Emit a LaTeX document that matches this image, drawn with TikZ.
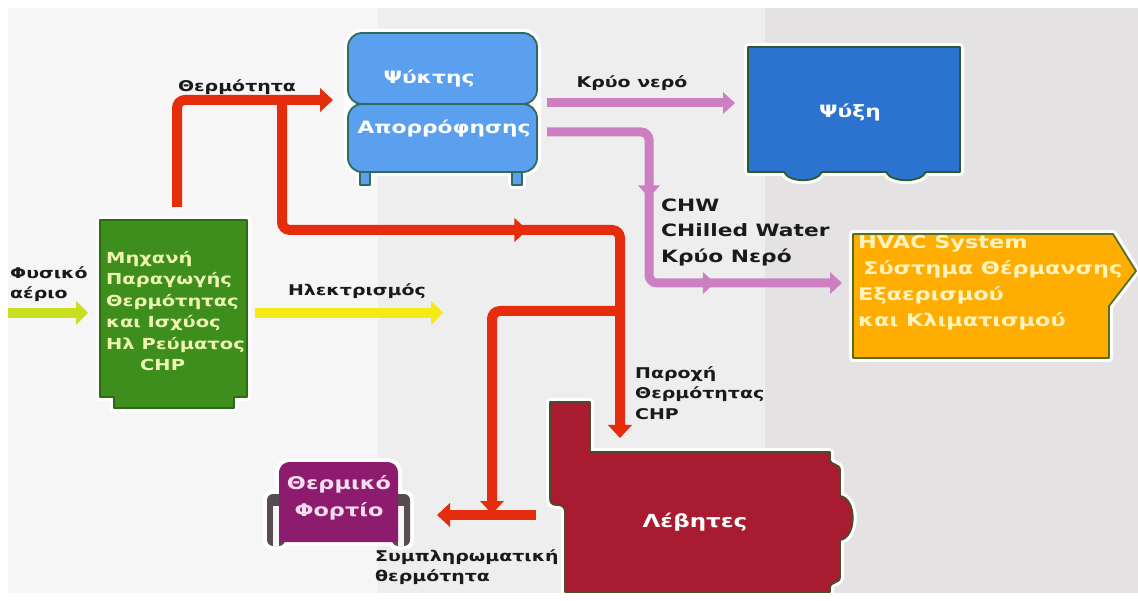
\documentclass[tikz,border=0pt]{standalone}
\usepackage{fontspec}
\setmainfont{DejaVu Sans}[FakeStretch=1.28]
\usetikzlibrary{arrows.meta,decorations.markings}
\definecolor{bgA}{HTML}{F6F6F6}
\definecolor{bgB}{HTML}{EFEEEE}
\definecolor{bgC}{HTML}{E4E2E2}
\definecolor{cRed}{HTML}{E52C0C}
\definecolor{cPink}{HTML}{CC80C2}
\definecolor{cLime}{HTML}{C8DF20}
\definecolor{cYellow}{HTML}{F5E916}
\definecolor{chpFill}{HTML}{3E8E1E}
\definecolor{chpEdge}{HTML}{2C6A14}
\definecolor{chpText}{HTML}{EEF5B0}
\definecolor{chillFill}{HTML}{5AA0EE}
\definecolor{chillEdge}{HTML}{2F6A5A}
\definecolor{coolFill}{HTML}{2B73CF}
\definecolor{coolEdge}{HTML}{2D5A2A}
\definecolor{hvacFill}{HTML}{FFAD00}
\definecolor{hvacEdge}{HTML}{55701F}
\definecolor{hvacText}{HTML}{FFF3C0}
\definecolor{boilFill}{HTML}{A81B30}
\definecolor{boilEdge}{HTML}{4E4A2A}
\definecolor{loadFill}{HTML}{8E1C6E}
\definecolor{loadArm}{HTML}{574C50}
\definecolor{loadText}{HTML}{F5DDF0}
\definecolor{ink}{HTML}{1A1A1A}
\tikzset{
  halo/.style={preaction={draw=white,line width=8pt,line join=round}},
  haloonly/.style={draw=white,line width=8pt,line join=round},
  shapeline/.style={line width=1.8pt,line join=round},
  pipeRed/.style={draw=cRed,line width=10pt,rounded corners=8pt,-{Triangle[width=24pt,length=13pt,line width=0pt]}},
  pipePink/.style={draw=cPink,line width=9pt,rounded corners=8pt,-{Triangle[width=22pt,length=12pt,line width=0pt]}},
  pipeYellow/.style={draw=cYellow,line width=10pt,-{Triangle[width=24pt,length=12pt,line width=0pt]}},
  pipeLime/.style={draw=cLime,line width=10pt,-{Triangle[width=24pt,length=12pt,line width=0pt]}},
  midRed/.style={postaction={decorate,decoration={markings,mark=at position #1 with {\arrow[cRed]{Triangle[width=24pt,length=13pt,line width=0pt]}}}}},
  midPink/.style={postaction={decorate,decoration={markings,mark=at position #1 with {\arrow[cPink]{Triangle[width=22pt,length=12pt,line width=0pt]}}}}},
  labtxt/.style={font=\fontsize{14.8}{20.5}\selectfont\bfseries,text=ink,inner sep=0pt,align=left},
  chwtxt/.style={font=\fontsize{17}{25.5}\selectfont\bfseries,text=ink,inner sep=0pt,align=left},
  chptxt/.style={font=\fontsize{15.2}{21.5}\selectfont\bfseries,text=chpText,inner sep=0pt,align=left},
  whitetxt/.style={font=\fontsize{17}{26}\selectfont\bfseries,text=white,inner sep=0pt,align=center},
  boiltxt/.style={font=\fontsize{18}{26}\selectfont\bfseries,text=white,inner sep=0pt,align=center},
  hvactxt/.style={font=\fontsize{17.5}{26}\selectfont\bfseries,text=hvacText,inner sep=0pt,align=left},
  loadtxt/.style={font=\fontsize{17.5}{27}\selectfont\bfseries,text=loadText,inner sep=0pt,align=center}
}
\begin{document}
\begin{tikzpicture}[x=1pt,y=-1pt]
\useasboundingbox (0,0) rectangle (1138,601);
% background panels
\fill[white] (0,0) rectangle (1138,601);
\fill[bgA] (8,8) rectangle (378,593);
\fill[bgB] (378,8) rectangle (765,593);
\fill[bgC] (765,8) rectangle (1138,593);

% CHP unit
\draw[halo,shapeline,draw=chpEdge,fill=chpFill] (100,220) -- (247,220) -- (247,397) -- (234,397) -- (234,408) -- (114,408) -- (114,397) -- (100,397) -- cycle;
\node[chptxt,anchor=west] (chp) at (106,311) {Μηχανή\\Παραγωγής\\Θερμότητας\\και Ισχύος\\Ηλ Ρεύματος\\\hspace*{34pt}CHP};

% absorption chiller
\draw[haloonly] (360,165) rectangle (370,185) (512,165) rectangle (522,185);
\draw[haloonly,rounded corners=14pt] (348,33) rectangle (537,172);
\draw[shapeline,draw=chillEdge,fill=chillFill] (360,165) rectangle (370,185) (512,165) rectangle (522,185);
\draw[shapeline,draw=chillEdge,fill=chillFill,rounded corners=14pt] (348,104) rectangle (537,172);
\draw[shapeline,draw=chillEdge,fill=chillFill,rounded corners=14pt] (348,33) rectangle (537,104);
\node[whitetxt] (chiller) at (429,78) {Ψύκτης};
\node[whitetxt] (absorb) at (444,128) {Απορρόφησης};

% cooling
\draw[halo,shapeline,draw=coolEdge,fill=coolFill] (748,47) -- (960,47) -- (960,172) -- (926,172) .. controls (921,183) and (891,183) .. (886,172) -- (822,172) .. controls (817,183) and (789,183) .. (784,172) -- (748,172) -- cycle;
\node[whitetxt] (cooling) at (850,112) {Ψύξη};

% HVAC
\draw[halo,shapeline,draw=hvacEdge,fill=hvacFill] (853,234) -- (1113,234) -- (1136,271) -- (1109,306) -- (1109,358) -- (853,358) -- cycle;
\node[hvactxt,anchor=west] (hvac) at (858,283) {HVAC System\\\hspace*{5pt}Σύστημα Θέρμανσης\\Εξαερισμού\\και Κλιματισμού};

% boilers
\draw[halo,shapeline,draw=boilEdge,fill=boilFill] (550,402) -- (590,402) -- (590,452) -- (830,452) -- (830,459) .. controls (830,466) and (840,463) .. (840,470) -- (840,496) .. controls (857,498) and (857,538) .. (840,540) -- (840,577) .. controls (840,584) and (830,581) .. (830,588) -- (830,592) -- (565,592) -- (565,512) .. controls (565,507) and (562,505) .. (557,505) .. controls (552,505) and (550,503) .. (550,498) -- cycle;
\node[boiltxt] (boiler) at (695,522) {Λέβητες};

% thermal load
\draw[haloonly,rounded corners=6pt] (267,546) -- (267,494) -- (285,494) -- (285,546) -- cycle;
\draw[haloonly,rounded corners=6pt] (392,546) -- (392,494) -- (410,494) -- (410,546) -- cycle;
\draw[haloonly] (279,542) -- (279,474) .. controls (279,466) and (283,462) .. (291,462) -- (386,462) .. controls (394,462) and (398,466) .. (398,474) -- (398,542) -- cycle;
\fill[loadArm,rounded corners=6pt] (267,546) -- (267,494) -- (285,494) -- (285,546) -- cycle;
\fill[loadArm,rounded corners=6pt] (392,546) -- (392,494) -- (410,494) -- (410,546) -- cycle;
\fill[bgA] (273,506) rectangle (279,546);
\fill[bgA] (398,506) rectangle (404,546);
\fill[loadFill] (279,542) -- (279,474) .. controls (279,466) and (283,462) .. (291,462) -- (386,462) .. controls (394,462) and (398,466) .. (398,474) -- (398,542) -- cycle;
\node[loadtxt] (load) at (339,498) {Θερμικό\\Φορτίο};

% connector waypoints
\coordinate (lm0) at (8,313);   \coordinate (lm1) at (88,313);
\coordinate (yl0) at (255,313); \coordinate (yl1) at (443,313);
\coordinate (rA0) at (177,207); \coordinate (rA1) at (177,100); \coordinate (rA2) at (333,100);
\coordinate (rJ1) at (282,100); \coordinate (rB1) at (282,230); \coordinate (rB2) at (620,230); \coordinate (rB3) at (620,438);
\coordinate (rJ2) at (620,311); \coordinate (rC1) at (492,311); \coordinate (rC2) at (492,514);
\coordinate (rD0) at (536,515); \coordinate (rD1) at (437,515);
\coordinate (pk0) at (547,103); \coordinate (pk1) at (735,103);
\coordinate (pk2) at (547,132); \coordinate (pk3) at (649,132); \coordinate (pk4) at (649,283); \coordinate (pk5) at (842,283);

% connectors
\draw[pipeLime] (lm0) -- (lm1);
\draw[pipeYellow] (yl0) -- (yl1);
\draw[pipePink] (pk0) -- (pk1);
\draw[pipePink,midPink=164pt,midPink=312pt] (pk2) -- (pk3) -- (pk4) -- (pk5);
\draw[pipeRed] (rA0) -- (rA1) -- (rA2);
\draw[pipeRed,midRed=372pt] (rJ1) -- (rB1) -- (rB2) -- (rB3);
\draw[pipeRed] (rD0) -- (rD1);
\draw[pipeRed] (rJ2) -- (rC1) -- (rC2);

% labels
\node[labtxt] (heatlab) at (237,87) {Θερμότητα};
\node[labtxt] (coldlab) at (632,83) {Κρύο νερό};
\node[labtxt] (eleclab) at (357,291) {Ηλεκτρισμός};
\node[labtxt,anchor=west] (gaslab) at (10,284) {Φυσικό\\αέριο};
\node[chwtxt,anchor=west] (chwlab) at (661,232) {CHW\\CHilled Water\\Κρύο Νερό};
\node[labtxt,anchor=west] (supplab) at (635,393) {Παροχή\\Θερμότητας\\CHP};
\node[labtxt,anchor=west] (extralab) at (375,567) {Συμπληρωματική\\θερμότητα};
\end{tikzpicture}
\end{document}
